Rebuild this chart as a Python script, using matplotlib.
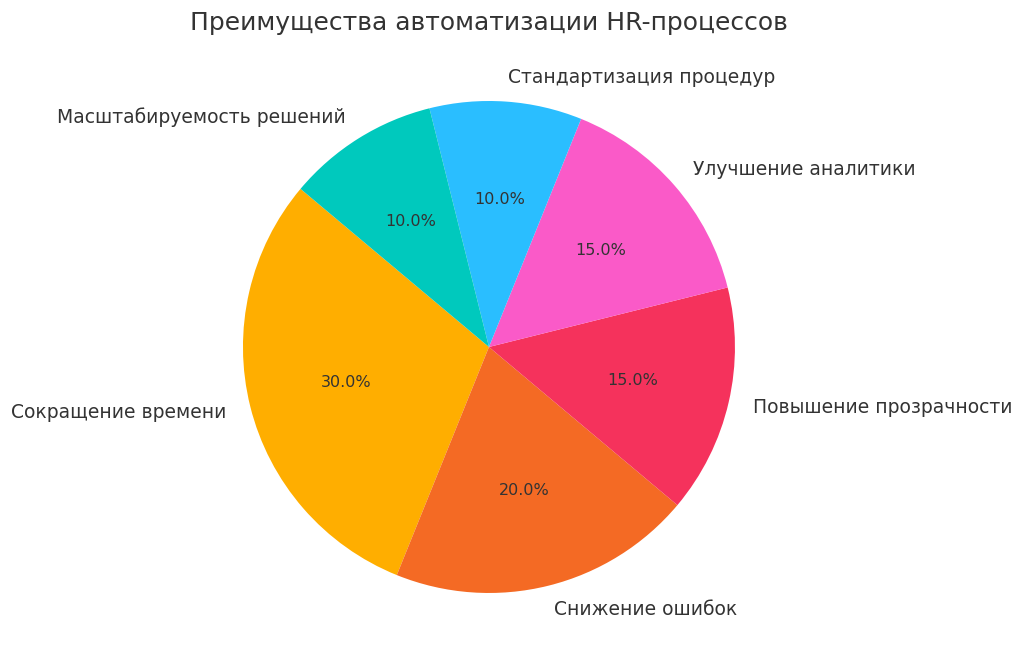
import matplotlib
matplotlib.use("Agg")
import matplotlib.pyplot as plt

# Data
labels = ['Сокращение времени', 'Снижение ошибок', 'Повышение прозрачности',
          'Улучшение аналитики', 'Стандартизация процедур', 'Масштабируемость решений']
shares = [30, 20, 15, 15, 10, 10]
colors = ['#FFAE00', '#F46A24', '#F5325C', '#FA5AC8', '#2ABEFF', '#00C9BD']

fig = plt.figure(figsize=(10.24, 6.66), dpi=100)
ax = fig.add_axes([0.1772, 0.0173, 0.6006, 0.9234])

wedges, texts, autotexts = ax.pie(shares, labels=labels, colors=colors,
                                  autopct='%1.1f%%', startangle=140,
                                  textprops={'fontsize': 13.5, 'color': '#333333'})
for t in autotexts:
    t.set_fontsize(11.5)
ax.set_xlim(-1.25, 1.25)
ax.set_ylim(-1.25, 1.25)
ax.set_aspect('equal')

# title is centred over the pie, not the figure
fig.text(0.4775, 0.966, 'Преимущества автоматизации HR-процессов',
         ha='center', va='center', fontsize=18, color='#333333')

fig.savefig('out.png', dpi=100)
